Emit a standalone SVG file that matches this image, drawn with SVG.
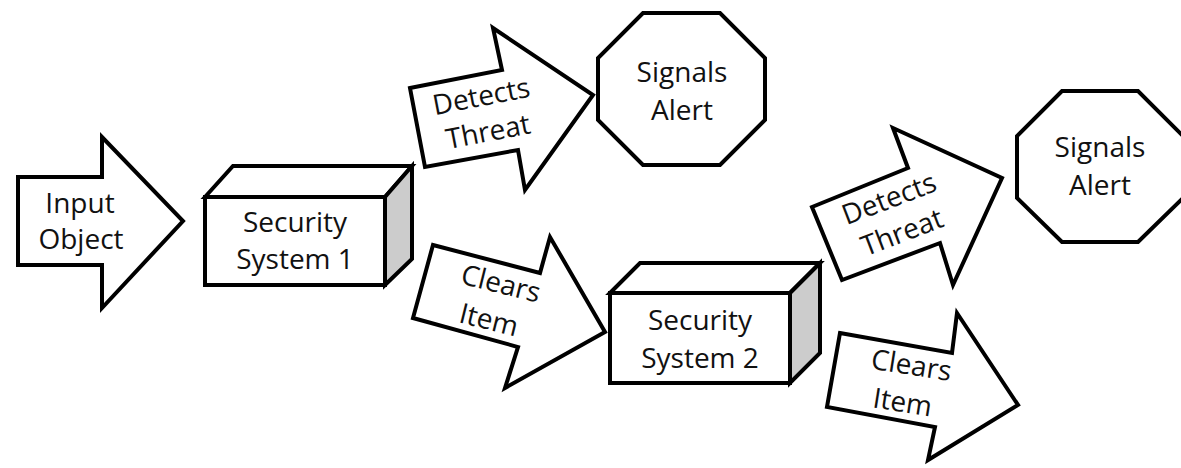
<svg xmlns="http://www.w3.org/2000/svg" width="1181" height="468" viewBox="0 0 1181 468">
  <style>
    .shape { fill: #ffffff; stroke: #000000; stroke-width: 4; stroke-linejoin: miter; }
    .side { fill: #cccccc; stroke: #000000; stroke-width: 4; stroke-linejoin: miter; }
    .label { font-family: "Open Sans", "Liberation Sans", sans-serif; font-size: 28px; fill: #111111; text-anchor: middle; }
  </style>
  <rect width="1181" height="468" fill="#ffffff"/>

  <!-- block arrows acting as connectors -->
  <g id="connectors">
    <g id="arrow-input">
      <polygon class="shape" points="18,177 102,177 102,137 183,221 102,308 102,265 18,265"/>
      <text class="label"><tspan x="80" y="213">Input</tspan><tspan x="81" y="249">Object</tspan></text>
    </g>
    <g id="arrow-detects-1">
      <polygon class="shape" points="410,88 502,70 493,28 593,95 525,190 518,150 425,167"/>
      <text class="label" transform="translate(486.5,123.5) rotate(-11)"><tspan x="0" y="-18">Detects</tspan><tspan x="0" y="18">Threat</tspan></text>
    </g>
    <g id="arrow-clears-1">
      <polygon class="shape" points="433,245 540,273 550,237 605,332 505,388 518,347 413,318"/>
      <text class="label" transform="translate(494,311.5) rotate(14)"><tspan x="0" y="-19">Clears</tspan><tspan x="-3" y="19">Item</tspan></text>
    </g>
    <g id="arrow-detects-2">
      <polygon class="shape" points="812,207 908,168 893,128 1002,178 953,285 940,243 842,280"/>
      <text class="label" transform="translate(899,224.5) rotate(-21)"><tspan x="0" y="-18">Detects</tspan><tspan x="0" y="18">Threat</tspan></text>
    </g>
    <g id="arrow-clears-2">
      <polygon class="shape" points="840,333 952,353 957,313 1018,405 928,460 935,427 827,407"/>
      <text class="label" transform="translate(907,393.5) rotate(9)"><tspan x="0" y="-19">Clears</tspan><tspan x="-3" y="19">Item</tspan></text>
    </g>
  </g>

  <!-- security system boxes -->
  <g id="security-system-1">
    <polygon class="shape" points="205,197 233,166 412,166 385,197"/>
    <polygon class="side" points="385,197 412,166 412,259 385,285"/>
    <rect class="shape" x="205" y="197" width="180" height="88"/>
    <text class="label"><tspan x="295" y="232">Security</tspan><tspan x="295" y="269">System 1</tspan></text>
  </g>

  <g id="security-system-2">
    <polygon class="shape" points="610,293 640,263 820,263 790,293"/>
    <polygon class="side" points="790,293 820,263 820,353 790,383"/>
    <rect class="shape" x="610" y="293" width="180" height="90"/>
    <text class="label"><tspan x="700" y="330">Security</tspan><tspan x="700" y="368">System 2</tspan></text>
  </g>

  <!-- alert octagons -->
  <g id="signals-alert-1">
    <polygon class="shape" points="643,13 720,13 765,58 765,120 720,165 643,165 598,120 598,58"/>
    <text class="label"><tspan x="682" y="82">Signals</tspan><tspan x="682" y="120">Alert</tspan></text>
  </g>

  <g id="signals-alert-2">
    <polygon class="shape" points="1062,91 1138,91 1183,136 1183,198 1138,242 1062,242 1017,198 1017,136"/>
    <text class="label"><tspan x="1100" y="157">Signals</tspan><tspan x="1100" y="195">Alert</tspan></text>
  </g>
</svg>
